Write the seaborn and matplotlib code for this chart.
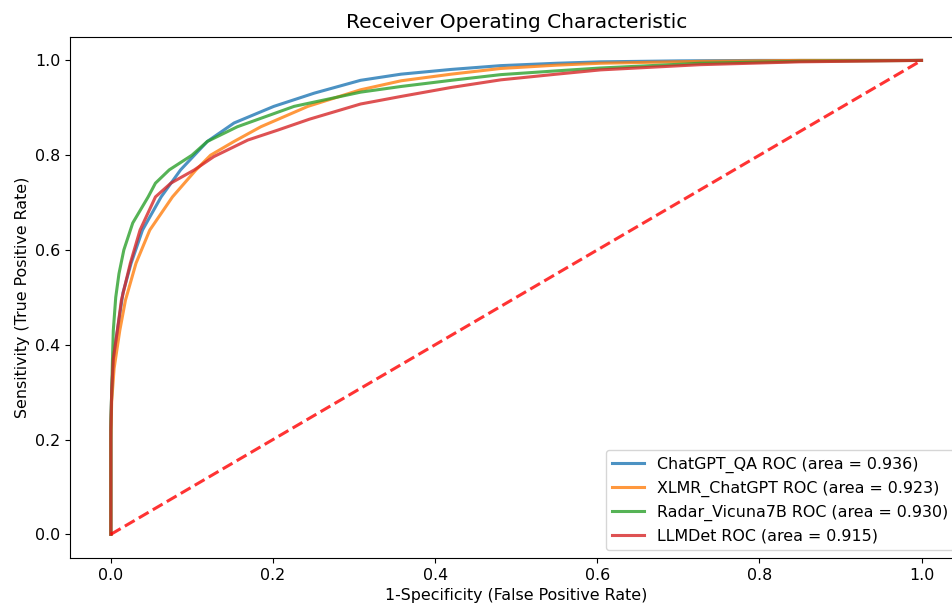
import numpy as np
import pandas as pd
import matplotlib
matplotlib.use("Agg")
import matplotlib.pyplot as plt
import seaborn as sns

# ROC points
chatgpt_qa_fpr = [0, 0, 0.001, 0.003, 0.008, 0.015, 0.025, 0.039, 0.062, 0.086, 0.119, 0.152,
                  0.201, 0.251, 0.308, 0.358, 0.42, 0.481, 0.55, 0.604, 0.7, 0.8, 0.9, 1.0]
chatgpt_qa_tpr = [0, 0.22, 0.30, 0.37, 0.43, 0.51, 0.572, 0.642, 0.712, 0.769, 0.829, 0.868,
                  0.903, 0.931, 0.958, 0.971, 0.981, 0.989, 0.994, 0.997, 0.999, 1.0, 1.0, 1.0]

xlmr_fpr = [0, 0, 0.001, 0.004, 0.011, 0.018, 0.031, 0.048, 0.076, 0.105, 0.123, 0.152,
            0.185, 0.243, 0.308, 0.358, 0.42, 0.481, 0.55, 0.604, 0.727, 0.85, 1.0]
xlmr_tpr = [0, 0.20, 0.28, 0.35, 0.43, 0.494, 0.572, 0.642, 0.712, 0.769, 0.80, 0.829,
            0.86, 0.903, 0.938, 0.957, 0.971, 0.983, 0.99, 0.994, 0.998, 1.0, 1.0]

radar_fpr = [0, 0, 0.001, 0.002, 0.003, 0.006, 0.010, 0.016, 0.027, 0.046, 0.055, 0.072, 0.10,
             0.119, 0.156, 0.226, 0.308, 0.358, 0.42, 0.481, 0.55, 0.604, 0.727, 0.85, 1.0]
radar_tpr = [0, 0.24, 0.30, 0.37, 0.43, 0.50, 0.55, 0.60, 0.657, 0.712, 0.741, 0.769, 0.80,
             0.829, 0.86, 0.903, 0.933, 0.945, 0.958, 0.97, 0.978, 0.984, 0.994, 0.998, 1.0]

llmdet_fpr = [0, 0, 0.001, 0.003, 0.008, 0.013, 0.024, 0.036, 0.055, 0.074, 0.103, 0.127,
              0.169, 0.206, 0.245, 0.308, 0.358, 0.42, 0.481, 0.55, 0.604, 0.727, 0.85, 1.0]
llmdet_tpr = [0, 0.22, 0.30, 0.37, 0.43, 0.494, 0.572, 0.642, 0.712, 0.741, 0.769, 0.797,
              0.832, 0.853, 0.876, 0.908, 0.924, 0.943, 0.959, 0.971, 0.98, 0.991, 0.997, 1.0]

names = ["ChatGPT_QA", "XLMR_ChatGPT", "Radar_Vicuna7B", "LLMDet"]
aucs = [0.936, 0.923, 0.930, 0.915]
curves = [(chatgpt_qa_fpr, chatgpt_qa_tpr), (xlmr_fpr, xlmr_tpr),
          (radar_fpr, radar_tpr), (llmdet_fpr, llmdet_tpr)]

plt.rcParams['font.size'] = 11.4
fig = plt.figure(figsize=(9.53, 6.13), dpi=100)
ax = fig.add_axes([0.0738, 0.0897, 0.9357, 0.8504])

colors = sns.color_palette("tab10", 4)
for (fpr, tpr), name, auc, c in zip(curves, names, aucs, colors):
    sns.lineplot(x=fpr, y=tpr, ax=ax, sort=False, estimator=None, color=c, lw=2.2, alpha=.8,
                 label='%s ROC (area = %0.3f)' % (name, auc))

ax.plot([0, 1], [0, 1], linestyle='--', lw=2.2, color='r', alpha=.8)

ax.set_xlim(-0.05, 1.05)
ax.set_ylim(-0.05, 1.05)
ax.set_xlabel('1-Specificity (False Positive Rate)')
ax.set_ylabel('Sensitivity (True Positive Rate)')
ax.set_title('Receiver Operating Characteristic', fontsize=14.5)
ax.legend(loc="lower right")

fig.savefig("out.png", dpi=100)
